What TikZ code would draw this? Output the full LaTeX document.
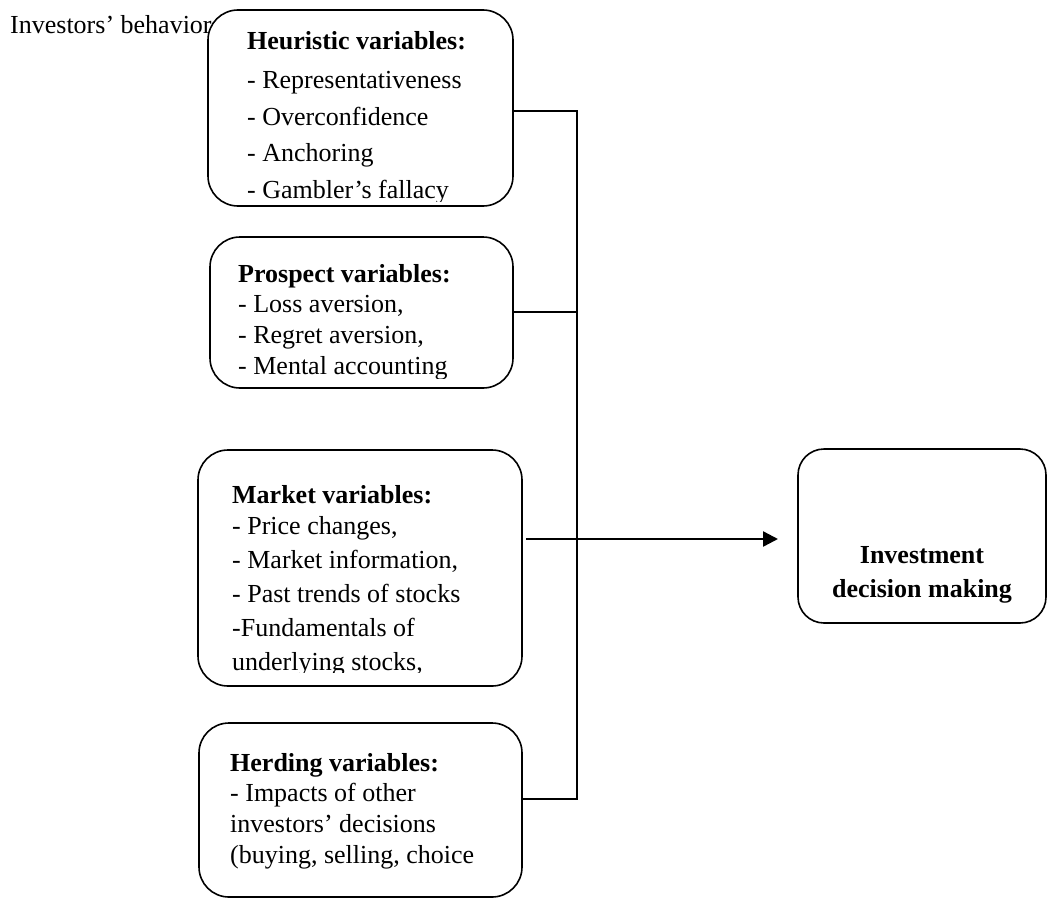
\documentclass[tikz,border=0pt]{standalone}
\usepackage{fontspec}
\setmainfont{Liberation Serif}
\usetikzlibrary{arrows.meta}
\begin{document}
\begin{tikzpicture}[x=1pt,y=-1pt,
  box/.style={draw, line width=1.6pt, rounded corners=30pt, fill=white, inner sep=0pt},
  ibox/.style={draw, line width=1.6pt, rounded corners=26pt, fill=white, inner sep=0pt},
  txt/.style={anchor=base west, inner sep=0pt, font=\fontsize{26}{31}\selectfont},
  head/.style={anchor=base west, inner sep=0pt, font=\fontsize{26}{31}\selectfont\bfseries},
  conn/.style={line width=1.8pt},
  arr/.style={line width=2.4pt, -{Triangle[length=15pt,width=15pt]}}]
\useasboundingbox (0,0) rectangle (1048,910);
\node[txt] (title) at (10,33) {Investors’ behavior};

% boxes
\node[box, minimum width=305pt, minimum height=196pt] (heur) at (360.5,108) {};
\node[box, minimum width=303pt, minimum height=151pt] (pros) at (361.5,312.5) {};
\node[box, minimum width=324pt, minimum height=236pt] (mark) at (360,568) {};
\node[box, minimum width=323pt, minimum height=174pt] (herd) at (360.5,810) {};
\node[ibox, minimum width=248pt, minimum height=174pt] (inv) at (922,536) {};

% heuristic text
\begin{scope}
\clip (208,10) rectangle (513,201);
\node[head] (h0) at (247,49) {Heuristic variables:};
\node[txt] (h1) at (247,88) {- Representativeness};
\node[txt] (h2) at (247,125) {- Overconfidence};
\node[txt] (h3) at (247,161) {- Anchoring};
\node[txt] (h4) at (247,198) {- Gambler’s fallacy};
\end{scope}

% prospect text
\begin{scope}
\clip (210,237) rectangle (513,378);
\node[head] (p0) at (238,282) {Prospect variables:};
\node[txt] (p1) at (238,312) {- Loss aversion,};
\node[txt] (p2) at (238,343) {- Regret aversion,};
\node[txt] (p3) at (238,374) {- Mental accounting};
\end{scope}

% market text
\begin{scope}
\clip (198,450) rectangle (522,672);
\node[head] (m0) at (232,503) {Market variables:};
\node[txt] (m1) at (232,534) {- Price changes,};
\node[txt] (m2) at (232,568) {- Market information,};
\node[txt] (m3) at (232,602) {- Past trends of stocks};
\node[txt] (m4) at (232,636) {-Fundamentals of};
\node[txt] (m5) at (232,670) {underlying stocks,};
\end{scope}

% herding text
\node[head] (d0) at (230,771) {Herding variables:};
\node[txt] (d1) at (230,801) {- Impacts of other};
\node[txt] (d2) at (230,832) {investors’ decisions};
\node[txt] (d3) at (230,863) {(buying, selling, choice};

% investment text
\node[head, anchor=base] (i1) at (922,563) {Investment};
\node[head, anchor=base] (i2) at (922,597) {decision making};

% connectors
\coordinate (bustop) at (577,111);
\coordinate (busmid) at (577,312);
\coordinate (busbot) at (577,799);
\coordinate (arrs) at (526,539);
\coordinate (arre) at (778,539);
\draw[conn] (heur.east |- bustop) -- (bustop) -- (busbot) -- (herd.east |- busbot);
\draw[conn] (pros.east |- busmid) -- (busmid);
\draw[arr] (arrs) -- (arre);
\end{tikzpicture}
\end{document}
